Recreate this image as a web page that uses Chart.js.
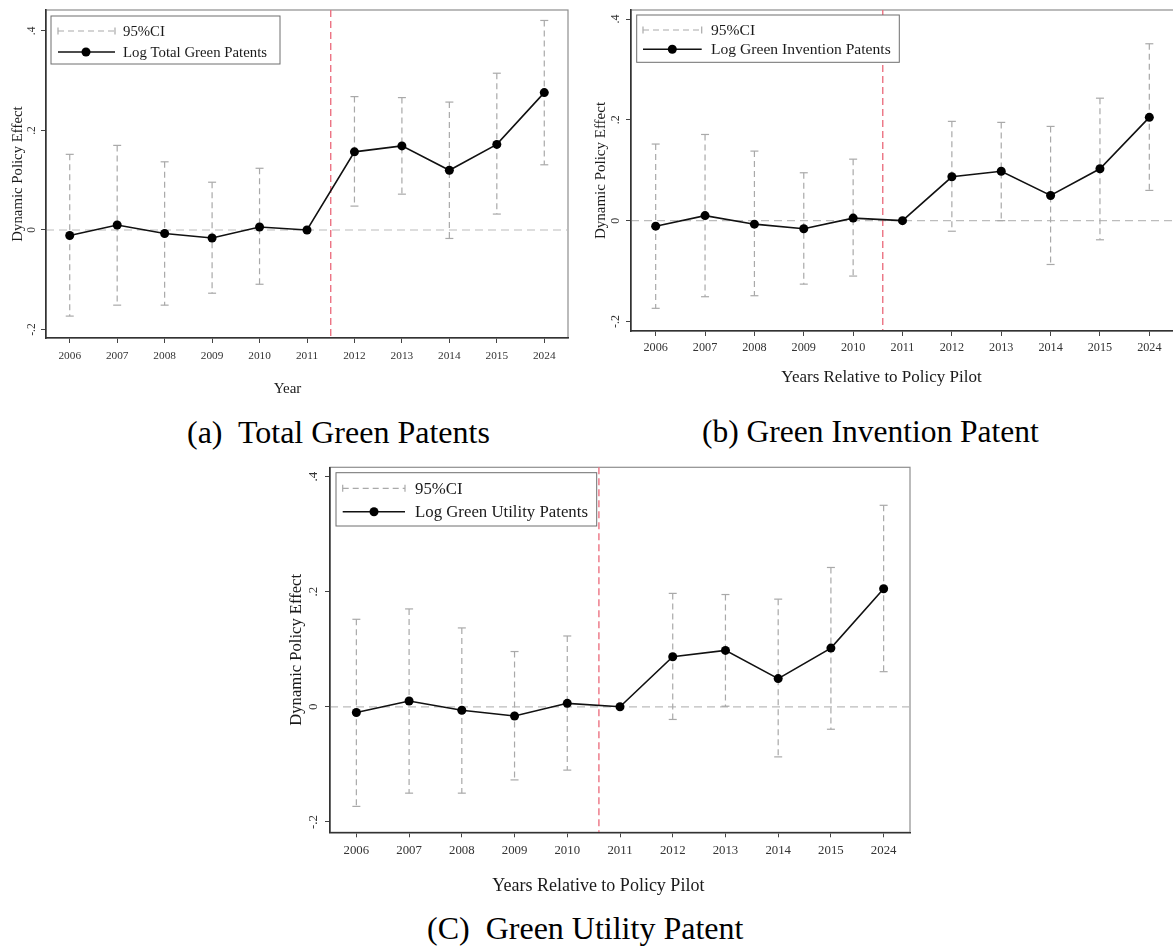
<!DOCTYPE html>
<html>
<head>
<meta charset="utf-8">
<script src="https://cdn.jsdelivr.net/npm/chart.js@4.4.1/dist/chart.umd.min.js"></script>
<style>
  html, body { margin: 0; padding: 0; background: #fff; overflow: hidden; width: 1173px; height: 946px; }
  .panel { position: absolute; }
  .caption { position: absolute; font-family: "Liberation Serif", "Times New Roman", serif; color: #000; white-space: pre; line-height: 1; }
</style>
</head>
<body>
<div class="panel" style="left:0px;top:0px;"><canvas id="chartA" width="590" height="410"></canvas></div>
<div class="panel" style="left:585px;top:0px;"><canvas id="chartB" width="600" height="410"></canvas></div>
<div class="panel" style="left:280px;top:455px;"><canvas id="chartC" width="660" height="450"></canvas></div>

<div class="caption" style="left:187px;top:416px;font-size:32px;">(a)  Total Green Patents</div>
<div class="caption" style="left:702px;top:416px;font-size:31.5px;">(b) Green Invention Patent</div>
<div class="caption" style="left:427px;top:912px;font-size:32px;">(C)  Green Utility Patent</div>

<script>
// Event-study estimates: yearly coefficients with 95% confidence bounds
const years = ['2006', '2007', '2008', '2009', '2010', '2011', '2012', '2013', '2014', '2015', '2024'];
const yTicks = [-0.2, 0, 0.2, 0.4];

const totalCoef = [-0.011, 0.010, -0.007, -0.016, 0.006, 0, 0.157, 0.169, 0.120, 0.172, 0.276];
const totalLow  = [-0.173, -0.151, -0.151, -0.127, -0.109, null, 0.048, 0.072, -0.017, 0.032, 0.131];
const totalHigh = [0.152, 0.170, 0.137, 0.096, 0.124, null, 0.268, 0.266, 0.257, 0.315, 0.421];

const inventionCoef = [-0.011, 0.010, -0.007, -0.016, 0.005, 0, 0.087, 0.098, 0.050, 0.103, 0.205];
const inventionLow  = [-0.174, -0.151, -0.149, -0.126, -0.110, null, -0.021, 0.000, -0.087, -0.038, 0.060];
const inventionHigh = [0.152, 0.171, 0.138, 0.095, 0.122, null, 0.197, 0.195, 0.187, 0.243, 0.351];

const utilityCoef = [-0.010, 0.010, -0.006, -0.016, 0.006, 0, 0.087, 0.098, 0.049, 0.102, 0.205];
const utilityLow  = [-0.173, -0.150, -0.150, -0.127, -0.110, null, -0.022, 0.001, -0.087, -0.039, 0.061];
const utilityHigh = [0.152, 0.170, 0.137, 0.096, 0.123, null, 0.197, 0.195, 0.187, 0.242, 0.350];

// Policy start marker, in category-index units
const policyTotal = 5.5;
const policyInvention = 4.6;
const policyUtility = 4.6;

const SERIF = '"Liberation Serif", "Times New Roman", serif';

function tickText(v) {
  if (Math.abs(v) < 1e-9) return '0';
  return v.toFixed(1).replace(/^(-?)0\./, '$1.');
}

function strokeLine(ctx, x1, y1, x2, y2) {
  ctx.beginPath();
  ctx.moveTo(x1, y1);
  ctx.lineTo(x2, y2);
  ctx.stroke();
}

function buildPanel(p) {
  const canvas = document.getElementById(p.canvasId);
  const yW = 40, xH = 40;
  const W = canvas.width, H = canvas.height;

  const decor = {
    id: 'decor',
    beforeDraw(chart) {
      const { ctx, chartArea: a, scales: { x, y } } = chart;
      ctx.save();
      // outer frame
      ctx.strokeStyle = '#8e8e8e';
      ctx.lineWidth = 1.2;
      ctx.strokeRect(a.left, a.top, a.right - a.left, a.bottom - a.top);
      // zero reference line
      const y0 = y.getPixelForValue(0);
      ctx.setLineDash([8, 5]);
      ctx.strokeStyle = '#bcbcbc';
      ctx.lineWidth = 1.2;
      strokeLine(ctx, a.left, y0, a.right, y0);
      // policy start line
      const xp = x.getPixelForValue(p.policy);
      ctx.setLineDash([7, 4]);
      ctx.strokeStyle = '#ec7383';
      ctx.lineWidth = 1.4;
      strokeLine(ctx, xp, a.top, xp, a.bottom);
      ctx.restore();
    },
    beforeDatasetsDraw(chart) {
      const { ctx, scales: { x, y } } = chart;
      ctx.save();
      ctx.strokeStyle = '#a9a9a9';
      ctx.lineWidth = 1.2;
      for (let i = 0; i < p.low.length; i++) {
        if (p.low[i] === null || p.high[i] === null) continue;
        const px = x.getPixelForValue(i);
        const yt = y.getPixelForValue(p.high[i]);
        const yb = y.getPixelForValue(p.low[i]);
        ctx.setLineDash([6, 4]);
        strokeLine(ctx, px, yt, px, yb);
        ctx.setLineDash([]);
        strokeLine(ctx, px - 4, yt, px + 4, yt);
        strokeLine(ctx, px - 4, yb, px + 4, yb);
      }
      ctx.restore();
    },
    afterDraw(chart) {
      const { ctx, chartArea: a, scales: { y } } = chart;
      const L = p.legend;
      ctx.save();

      // legend box
      const bx = a.left + L.dx, by = a.top + L.dy;
      ctx.fillStyle = '#fff';
      ctx.fillRect(bx, by, L.w, L.h);
      ctx.strokeStyle = '#6e6e6e';
      ctx.lineWidth = 1;
      ctx.setLineDash([]);
      ctx.strokeRect(bx, by, L.w, L.h);

      const r1 = by + L.row1, r2 = by + L.row2;
      const s1 = bx + L.sym1, s2 = bx + L.sym2;
      // CI key
      ctx.strokeStyle = '#a9a9a9';
      ctx.lineWidth = 1.2;
      ctx.setLineDash([6, 4]);
      strokeLine(ctx, s1, r1, s2, r1);
      ctx.setLineDash([]);
      strokeLine(ctx, s1, r1 - 3.5, s1, r1 + 3.5);
      strokeLine(ctx, s2, r1 - 3.5, s2, r1 + 3.5);
      // estimate key
      ctx.strokeStyle = '#111';
      ctx.lineWidth = 1.6;
      strokeLine(ctx, s1, r2, s2, r2);
      ctx.fillStyle = '#000';
      ctx.beginPath();
      ctx.arc(bx + L.dot, r2, 4.5, 0, Math.PI * 2);
      ctx.fill();
      // key labels
      ctx.fillStyle = '#1a1a1a';
      ctx.font = L.font + 'px ' + SERIF;
      ctx.textAlign = 'left';
      ctx.textBaseline = 'middle';
      ctx.fillText('95%CI', bx + L.text, r1 + 1);
      ctx.fillText(p.seriesName, bx + L.text, r2 + 1);

      // rotated y tick labels
      ctx.fillStyle = '#333';
      ctx.font = p.yTickFont + 'px ' + SERIF;
      ctx.textAlign = 'center';
      ctx.textBaseline = 'middle';
      y.ticks.forEach(t => {
        const py = y.getPixelForValue(t.value);
        ctx.save();
        ctx.translate(a.left - p.yTickOff, py);
        ctx.rotate(-Math.PI / 2);
        ctx.fillText(tickText(t.value), 0, 0);
        ctx.restore();
      });

      // y axis title
      ctx.fillStyle = '#1a1a1a';
      ctx.font = p.yTitleFont + 'px ' + SERIF;
      ctx.save();
      ctx.translate(a.left - p.yTitleOff, (a.top + a.bottom) / 2);
      ctx.rotate(-Math.PI / 2);
      ctx.fillText('Dynamic Policy Effect', 0, 0);
      ctx.restore();

      // x axis title
      ctx.font = p.xTitleFont + 'px ' + SERIF;
      ctx.fillText(p.xTitle, p.xTitleX, p.xTitleY);
      ctx.restore();
    }
  };

  return new Chart(canvas, {
    type: 'line',
    data: {
      labels: years,
      datasets: [{
        data: p.coef,
        borderColor: '#111',
        borderWidth: 1.6,
        pointRadius: 4.5,
        pointBorderWidth: 0,
        pointBackgroundColor: '#000',
        tension: 0,
        fill: false
      }]
    },
    options: {
      responsive: false,
      animation: false,
      events: [],
      layout: {
        padding: {
          left: p.plot.l - yW,
          top: p.plot.t,
          right: W - p.plot.r,
          bottom: H - p.plot.b - xH
        }
      },
      plugins: { legend: { display: false }, tooltip: { enabled: false } },
      scales: {
        x: {
          type: 'category',
          offset: true,
          afterFit(s) { s.height = xH; },
          grid: { display: true, drawOnChartArea: false, drawTicks: true, tickLength: 5, color: '#444', offset: false },
          border: { display: true, color: '#333', width: 1.6 },
          ticks: {
            autoSkip: false, maxRotation: 0, minRotation: 0,
            padding: p.xTickPad, color: '#333',
            font: { family: SERIF, size: p.xTickFont }
          }
        },
        y: {
          type: 'linear',
          min: p.yMin,
          max: p.yMax,
          afterFit(s) { s.width = yW; },
          afterBuildTicks(s) { s.ticks = yTicks.map(v => ({ value: v })); },
          grid: { display: true, drawOnChartArea: false, drawTicks: true, tickLength: 5, color: '#444' },
          border: { display: true, color: '#333', width: 1.6 },
          ticks: { display: false }
        }
      }
    },
    plugins: [decor]
  });
}

buildPanel({
  canvasId: 'chartA',
  coef: totalCoef, low: totalLow, high: totalHigh,
  seriesName: 'Log Total Green Patents',
  policy: policyTotal,
  plot: { l: 46, t: 10, r: 568, b: 338 },
  yMin: -0.217, yMax: 0.442,
  xTickFont: 11.3, xTickPad: 6,
  yTickFont: 11.5, yTickOff: 14,
  yTitleFont: 14.8, yTitleOff: 28,
  xTitle: 'Year', xTitleX: 287.5, xTitleY: 389, xTitleFont: 15,
  legend: { dx: 5, dy: 6, w: 229, h: 48, row1: 15, row2: 36, sym1: 7, sym2: 64, dot: 35, text: 72, font: 14.8 }
});

buildPanel({
  canvasId: 'chartB',
  coef: inventionCoef, low: inventionLow, high: inventionHigh,
  seriesName: 'Log Green Invention Patents',
  policy: policyInvention,
  plot: { l: 46, t: 10, r: 589, b: 331 },
  yMin: -0.219, yMax: 0.418,
  xTickFont: 12.2, xTickPad: 4.2,
  yTickFont: 12, yTickOff: 15.5,
  yTitleFont: 15, yTitleOff: 30,
  xTitle: 'Years Relative to Policy Pilot', xTitleX: 296.5, xTitleY: 378, xTitleFont: 17,
  legend: { dx: 5.7, dy: 5, w: 262.6, h: 47.3, row1: 15, row2: 34.3, sym1: 6.3, sym2: 65, dot: 35.6, text: 74.3, font: 15.6 }
});

buildPanel({
  canvasId: 'chartC',
  coef: utilityCoef, low: utilityLow, high: utilityHigh,
  seriesName: 'Log Green Utility Patents',
  policy: policyUtility,
  plot: { l: 50, t: 12.3, r: 630, b: 377.3 },
  yMin: -0.218, yMax: 0.416,
  xTickFont: 12.8, xTickPad: 5.5,
  yTickFont: 13, yTickOff: 16,
  yTitleFont: 16.6, yTitleOff: 33,
  xTitle: 'Years Relative to Policy Pilot', xTitleX: 318.3, xTitleY: 431.5, xTitleFont: 18,
  legend: { dx: 6, dy: 5.4, w: 260.7, h: 53.3, row1: 15.6, row2: 39, sym1: 6.7, sym2: 69, dot: 38, text: 79, font: 16.8 }
});
</script>
</body>
</html>
